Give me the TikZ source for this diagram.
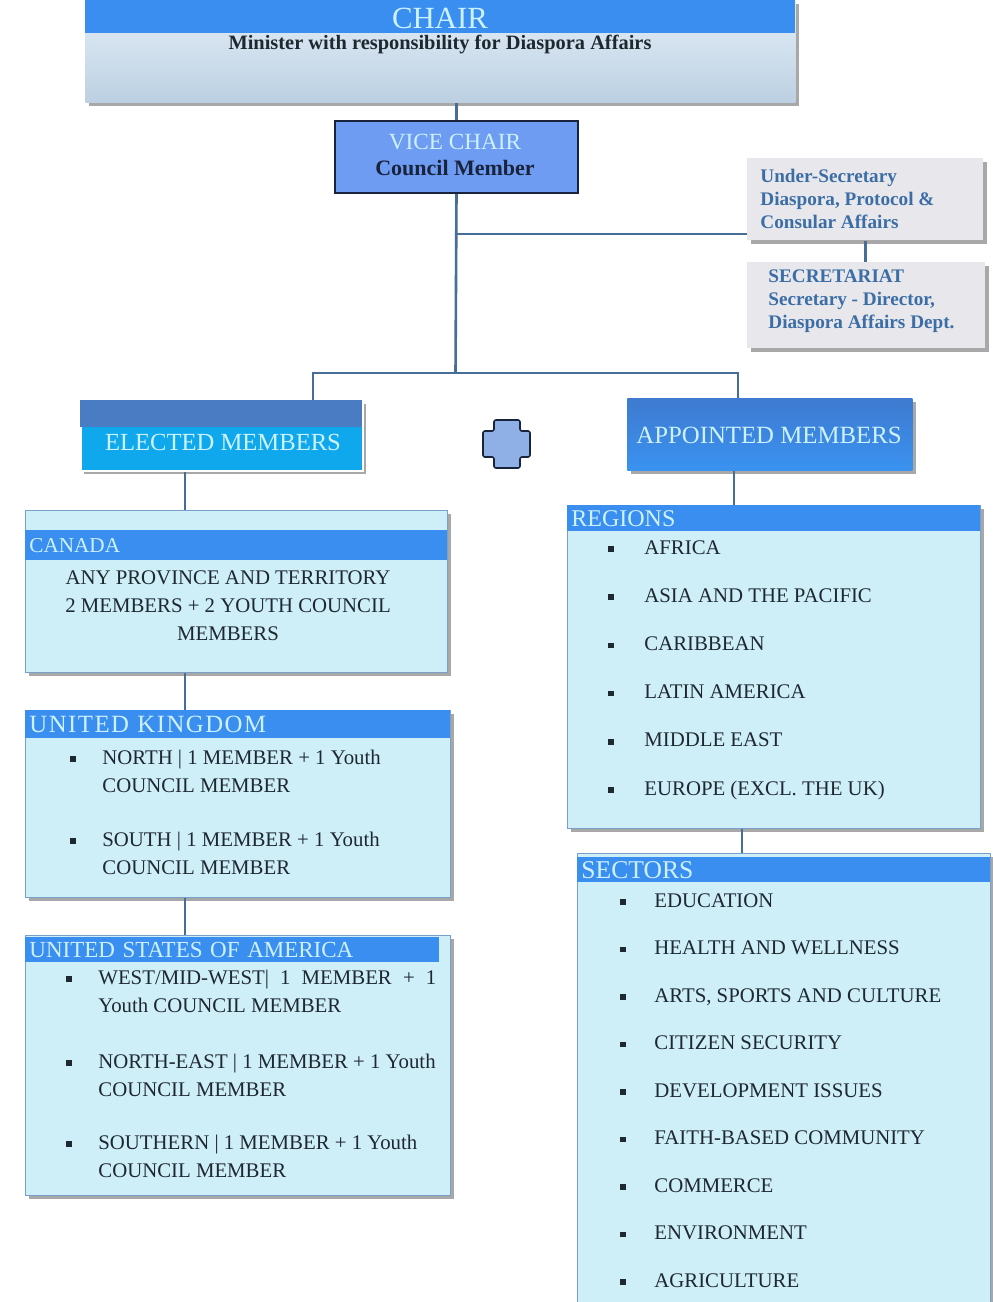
\documentclass[tikz,border=0pt]{standalone}
\usepackage{fontspec}
\setmainfont{Liberation Serif}
\usepackage{tikz}
\usetikzlibrary{positioning,shadows,calc}

\definecolor{bandblue}{RGB}{58,142,240}
\definecolor{bandtext}{RGB}{205,242,255}
\definecolor{panelfill}{RGB}{206,238,248}
\definecolor{panelline}{RGB}{120,160,200}
\definecolor{linkblue}{RGB}{70,110,150}
\definecolor{itemtext}{RGB}{30,40,48}
\definecolor{vicefill}{RGB}{110,156,242}
\definecolor{viceline}{RGB}{25,35,60}
\definecolor{greyfill}{RGB}{231,231,236}
\definecolor{greytext}{RGB}{60,110,165}
\definecolor{electtop}{RGB}{74,124,196}
\definecolor{electfill}{RGB}{16,168,236}
\definecolor{apptop}{RGB}{62,122,208}
\definecolor{appfill}{RGB}{58,146,240}
\definecolor{plusfill}{RGB}{143,176,230}
\definecolor{chairtop}{RGB}{228,239,247}
\definecolor{chairbot}{RGB}{188,208,226}

\newcommand{\itemfont}{\fontsize{10.4}{14}\selectfont}
\newcommand{\sqbullet}{\raisebox{1.1pt}{\rule{2.8pt}{2.8pt}}}

\begin{document}
\begin{tikzpicture}[x=0.5pt, y=-0.5pt,
  link/.style={draw=linkblue, line width=1.3pt},
  shade box/.style={drop shadow={shadow xshift=1.8pt, shadow yshift=-1.8pt, fill=gray!75, opacity=.9}},
  panel/.style={anchor=north west, inner sep=0pt, draw=panelline, fill=panelfill, shade box},
  band/.style={anchor=north west, inner xsep=2pt, inner ysep=0pt, fill=bandblue, text=bandtext, minimum height=14pt, text width=#1, align=left, font=\fontsize{12}{12}\selectfont},
  item/.style={anchor=base west, inner sep=0pt, text=itemtext, font=\itemfont},
  greybox/.style={anchor=north west, inner sep=0pt, fill=greyfill, shade box},
  greytxt/.style={anchor=west, inner sep=0pt, align=left, text=greytext, font=\fontsize{9.6}{11.5}\selectfont\bfseries}
]
\path[use as bounding box, fill=white] (0,0) rectangle (992,1302);

% top of the chart
\node[anchor=north west, inner sep=0pt, minimum width=355pt, minimum height=51pt, top color=chairtop, bottom color=chairbot, shade box] (chair) at (85,0) {};
\node[anchor=north west, inner sep=0pt, minimum width=355pt, minimum height=16.5pt, fill=bandblue] (chairband) at (85,0) {};
\node[text=bandtext, font=\fontsize{15.4}{15.4}\selectfont] (chairtitle) at (440,18) {CHAIR};
\node[text=itemtext, font=\fontsize{10.2}{11}\selectfont\bfseries] (chairsub) at (440,45) {Minister with responsibility for Diaspora Affairs};

\node[anchor=north west, inner sep=0pt, minimum width=121.5pt, minimum height=36pt, fill=vicefill, draw=viceline, line width=1pt] (vice) at (334,120) {};
\node[text=bandtext, font=\fontsize{11.6}{11.6}\selectfont] (vicetitle) at (455,142) {VICE CHAIR};
\node[text=viceline, font=\fontsize{11}{11}\selectfont\bfseries] (vicesub) at (455,168) {Council Member};

\node[greybox, minimum width=118pt, minimum height=41pt] (under) at (747,158) {};
\node[greytxt] (undertxt) at (760,199) {Under-Secretary\\Diaspora, Protocol \&\\Consular Affairs};
\node[greybox, minimum width=119pt, minimum height=43pt] (secr) at (747,262) {};
\node[greytxt] (secrtxt) at (768,301) {SECRETARIAT\\Secretary - Director,\\Diaspora Affairs Dept.};

% the two member groups
\node[anchor=north west, inner sep=0pt, minimum width=141pt, minimum height=35pt, fill=electfill, draw=white, line width=.8pt, shade box] (elected) at (80,400) {};
\node[anchor=north west, inner sep=0pt, minimum width=141pt, minimum height=13.5pt, fill=electtop] (electedband) at (80,400) {};
\node[text=bandtext, font=\fontsize{12.3}{12.3}\selectfont] (electedtxt) at (223,442) {ELECTED MEMBERS};

\node[anchor=north west, inner sep=0pt, minimum width=142.5pt, minimum height=36pt, top color=apptop, bottom color=appfill, shade box] (appointed) at (627,398) {};
\node[text=bandtext, font=\fontsize{12.4}{12.4}\selectfont] (appointedtxt) at (769,435) {APPOINTED MEMBERS};

\draw[draw=viceline, fill=plusfill, line width=.8pt, rounded corners=1pt]
  (494,420) -- (520,420) -- (520,431) -- (530,431) -- (530,457) -- (520,457) -- (520,468)
  -- (494,468) -- (494,457) -- (483,457) -- (483,431) -- (494,431) -- cycle;

% elected: countries
\node[panel, minimum width=211pt, minimum height=81pt] (canada) at (25,510) {};
\node[band=207pt, minimum height=15pt, font=\fontsize{10.6}{10.6}\selectfont] (canadahead) at (25,530) {CANADA};
\node[item, anchor=center, align=center] (canadatxt) at (228,606) {ANY PROVINCE AND TERRITORY\\2 MEMBERS + 2 YOUTH COUNCIL\\MEMBERS};

\node[panel, minimum width=212.5pt, minimum height=93.5pt] (uk) at (25,710) {};
\node[band=208.5pt, font=\fontsize{12.4}{12.4}\selectfont\addfontfeatures{LetterSpace=6}] (ukhead) at (25,710) {UNITED KINGDOM};
\foreach \t/\y [count=\i] in {NORTH/758, SOUTH/840}
  \node[item] (uk\i) at (70,\y+6) {\begin{tabular}[t]{@{}p{16pt}@{}l@{}}\sqbullet & \t{} \textbar{} 1 MEMBER + 1 Youth\\ & COUNCIL MEMBER\end{tabular}};

\node[panel, minimum width=212.5pt, minimum height=130pt] (usa) at (25,935) {};
\node[band=203pt, minimum height=12.5pt, font=\fontsize{11.5}{11.5}\selectfont] (usahead) at (25,937) {UNITED STATES OF AMERICA};
\node[item] (usa1) at (66,984) {\begin{tabular}[t]{@{}p{16pt}@{}l@{}}\sqbullet & \makebox[169pt][s]{WEST/MID-WEST\textbar{} 1 MEMBER + 1}\\ & Youth COUNCIL MEMBER\end{tabular}};
\foreach \t/\y [count=\i from 2] in {NORTH-EAST/1062, SOUTHERN/1143}
  \node[item] (usa\i) at (66,\y+6) {\begin{tabular}[t]{@{}p{16pt}@{}l@{}}\sqbullet & \t{} \textbar{} 1 MEMBER + 1 Youth\\ & COUNCIL MEMBER\end{tabular}};

% appointed: regions and sectors
\node[panel, minimum width=206.5pt, minimum height=161.5pt] (regions) at (567,505) {};
\node[band=202.5pt, minimum height=13pt] (regionshead) at (567,505) {REGIONS};
\foreach \t [count=\i] in {AFRICA, ASIA AND THE PACIFIC, CARIBBEAN, LATIN AMERICA, MIDDLE EAST, {EUROPE (EXCL. THE UK)}}
  \node[item] (reg\i) at (608,554+48.2*\i-48.2) {\makebox[18pt][l]{\sqbullet}\t};

\node[panel, minimum width=206.5pt, minimum height=224.5pt] (sectors) at (577,853) {};
\node[band=202.5pt, minimum height=12.5pt, font=\fontsize{12.8}{12.8}\selectfont] (sectorshead) at (577,857) {SECTORS};
\foreach \t [count=\i] in {EDUCATION, HEALTH AND WELLNESS, {ARTS, SPORTS AND CULTURE}, CITIZEN SECURITY, DEVELOPMENT ISSUES, FAITH-BASED COMMUNITY, COMMERCE, ENVIRONMENT, AGRICULTURE}
  \node[item] (sec\i) at (620,907+47.5*\i-47.5) {\makebox[17pt][l]{\sqbullet}\t};

% connectors
\coordinate (bus) at (455.5,373);
\coordinate (tap) at (455.5,234);
\coordinate (eltop) at (313,400);
\coordinate (aptop) at (738,398);
\coordinate (lspine) at (185,0);
\coordinate (rspine) at (734,0);
\coordinate (rspinetwo) at (742,0);
\draw[link] (chair.south -| vice.north) -- (vice.north);
\draw[link] (vice.south) -- (bus);
\draw[link] (tap) -- (tap -| under.west);
\draw[link] (under.south) -- (under.south |- secr.north);
\draw[link] (eltop) |- (bus) -| (aptop);
\draw[link] (elected.south -| lspine) -- (canada.north -| lspine);
\draw[link] (canada.south -| lspine) -- (uk.north -| lspine);
\draw[link] (uk.south -| lspine) -- (usa.north -| lspine);
\draw[link] (appointed.south -| rspine) -- (regions.north -| rspine);
\draw[link] (regions.south -| rspinetwo) -- (sectors.north -| rspinetwo);
\end{tikzpicture}
\end{document}
